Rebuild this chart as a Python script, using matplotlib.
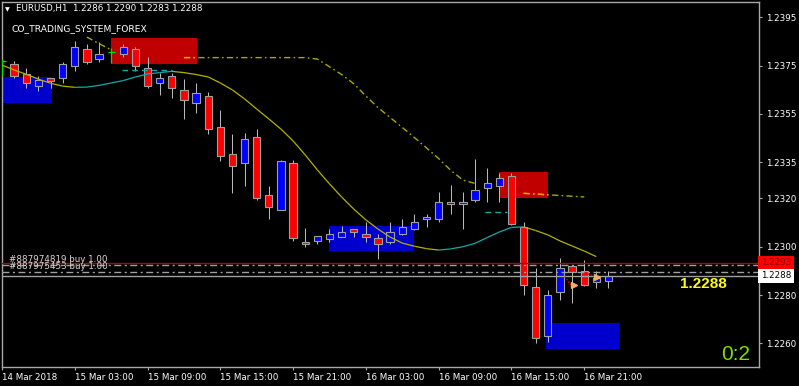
import matplotlib
matplotlib.use("Agg")
import matplotlib.pyplot as plt
from matplotlib.patches import Rectangle
import numpy as np

# ---------------- data ----------------
title_text = "EURUSD,H1  1.2286 1.2290 1.2283 1.2288"
indicator_name = "CO_TRADING_SYSTEM_FOREX"

# hourly bars, 14 Mar 2018 21:00 .. 16 Mar 2018 23:00
opens = [1.23769, 1.23757, 1.23715, 1.23667, 1.23697, 1.23697, 1.23748, 1.23817, 1.23777, 1.23808,
         1.23798, 1.23817, 1.23739, 1.23677, 1.23707, 1.23649, 1.23596, 1.23624, 1.23497, 1.23384,
         1.23345, 1.23456, 1.23214, 1.23152, 1.23345, 1.23021, 1.23024, 1.23032, 1.23041, 1.23073,
         1.23053, 1.23035, 1.23021, 1.23051, 1.23072, 1.23115, 1.23113, 1.23176, 1.23176, 1.23193,
         1.23244, 1.23253, 1.23294, 1.23083, 1.22832, 1.22630, 1.22811, 1.22920, 1.22901, 1.22853,
         1.22860]
highs = [1.23779, 1.23769, 1.23739, 1.23707, 1.23699, 1.23766, 1.23852, 1.23838, 1.23849, 1.23823,
         1.23838, 1.23828, 1.23787, 1.23718, 1.23718, 1.23693, 1.23679, 1.23642, 1.23566, 1.23465,
         1.23470, 1.23486, 1.23251, 1.23359, 1.23359, 1.23076, 1.23044, 1.23073, 1.23086, 1.23075,
         1.23104, 1.23051, 1.23104, 1.23115, 1.23135, 1.23135, 1.23225, 1.23256, 1.23226, 1.23365,
         1.23325, 1.23304, 1.23306, 1.23104, 1.22913, 1.22821, 1.22954, 1.22922, 1.22945, 1.22901,
         1.22900]
lows = [1.23708, 1.23697, 1.23656, 1.23646, 1.23656, 1.23677, 1.23728, 1.23755, 1.23766, 1.23761,
        1.23787, 1.23728, 1.23656, 1.23628, 1.23615, 1.23528, 1.23555, 1.23465, 1.23355, 1.23224,
        1.23251, 1.23193, 1.23113, 1.23150, 1.23025, 1.23000, 1.23010, 1.23018, 1.23039, 1.23041,
        1.23021, 1.22949, 1.23010, 1.23048, 1.23069, 1.23083, 1.23101, 1.23134, 1.23073, 1.23184,
        1.23184, 1.23184, 1.23090, 1.22800, 1.22600, 1.22607, 1.22779, 1.22768, 1.22839, 1.22830,
        1.22830]
closes = [1.23769, 1.23708, 1.23677, 1.23690, 1.23688, 1.23757, 1.23828, 1.23766, 1.23798, 1.23808,
          1.23828, 1.23748, 1.23667, 1.23697, 1.23656, 1.23608, 1.23638, 1.23486, 1.23376, 1.23335,
          1.23446, 1.23203, 1.23166, 1.23355, 1.23035, 1.23013, 1.23043, 1.23053, 1.23062, 1.23061,
          1.23041, 1.23010, 1.23062, 1.23083, 1.23104, 1.23124, 1.23184, 1.23184, 1.23184, 1.23235,
          1.23265, 1.23283, 1.23094, 1.22841, 1.22621, 1.22800, 1.22911, 1.22894, 1.22841, 1.22872,
          1.22880]

# moving average (bars 0..49)
ma_values = [1.23752, 1.23732, 1.23714, 1.23694, 1.23677, 1.23665, 1.23660, 1.23661, 1.23668, 1.23678,
             1.23688, 1.23703, 1.23715, 1.23721, 1.23726, 1.23721, 1.23713, 1.23703, 1.23678, 1.23649,
             1.23612, 1.23570, 1.23529, 1.23487, 1.23438, 1.23380, 1.23318, 1.23260, 1.23206, 1.23156,
             1.23111, 1.23073, 1.23040, 1.23015, 1.23002, 1.22992, 1.22986, 1.22991, 1.23000, 1.23014,
             1.23038, 1.23061, 1.23080, 1.23082, 1.23067, 1.23049, 1.23024, 1.23003, 1.22982, 1.22959]

# dash-dot trailing line (None = not drawn)
trail_values = [None, None, None, None, None, None, None, 1.23868, 1.23841, 1.23815,
                None, None, None, None, None, 1.23783, 1.23783, 1.23783, 1.23783, 1.23783,
                1.23783, 1.23783, 1.23783, 1.23783, 1.23783, 1.23783, 1.23777, 1.23745, 1.23713, 1.23675,
                1.23624, 1.23576, 1.23535, 1.23494, 1.23452, 1.23409, 1.23365, 1.23316, 1.23276, 1.23262,
                None, None, None, 1.23221, 1.23218, 1.23215, 1.23212, 1.23209, 1.23206]

# zones (bar start, bar end, low, high, kind)
zone_start = [-1, 9, 27, 41, 44.85]
zone_end = [4.1, 16.1, 34.0, 45.0, 50.95]
zone_low = [1.23596, 1.23757, 1.22982, 1.23203, 1.22576]
zone_high = [1.23704, 1.23863, 1.23086, 1.23308, 1.22685]
zone_kind = ["buy", "sell", "buy", "sell", "buy"]

# short cyan dashed levels
cyan_start = [9.9, 39.8]
cyan_end = [14.0, 41.6]
cyan_level = [1.23730, 1.23144]

ask_price = 1.22934
bid_price = 1.2288
order_prices = [1.22923, 1.22894]
order_labels = ["#887974819 buy 1.00", "#887975453 buy 1.00"]

trade_bars = [47.15, 49.05]
trade_prices = [1.22841, 1.22875]
link_x = [[46.4, 47.0], [48.3, 48.9]]
link_y = [[1.22876, 1.22835], [1.22888, 1.22876]]

tick_bars = [0, 6, 12, 18, 24, 30, 36, 42, 48]
tick_labels = ["14 Mar 2018", "15 Mar 03:00", "15 Mar 09:00", "15 Mar 15:00", "15 Mar 21:00",
               "16 Mar 03:00", "16 Mar 09:00", "16 Mar 15:00", "16 Mar 21:00"]
price_ticks = [1.2395, 1.2375, 1.2355, 1.2335, 1.2320, 1.2300, 1.2280, 1.2260]

big_price_text = "1.2288"
score_text = "0:2"

# ---------------- drawing ----------------
W, H = 799, 386
fig = plt.figure(figsize=(W / 100, H / 100), dpi=100, facecolor="black")
ax = fig.add_axes([1.5 / W, 19 / H, 757.5 / W, 365 / H])
ax.set_facecolor("black")
ax.set_xlim(-0.04, 62.41)
ax.set_ylim(1.225019, 1.240133)

FS = 6.3
frame_col = "#A8A8A8"

# zones
zone_patches = []
for s, e, lo, hi, k in zip(zone_start, zone_end, zone_low, zone_high, zone_kind):
    col = "#0000CD" if k == "buy" else "#C00000"
    r = Rectangle((s, lo), e - s, hi - lo, facecolor=col, edgecolor="none", zorder=1)
    ax.add_patch(r)
    zone_patches.append((r, k))

# candles
o = np.array(opens); h = np.array(highs); l = np.array(lows); c = np.array(closes)
x = np.arange(len(o))
bull = c > o
bear = c < o
doji = c == o
bw = 0.6
ax.vlines(x[~doji], l[~doji], h[~doji], color="#B8B8B8", lw=0.75, zorder=3)
ax.bar(x[bull], (c - o)[bull], bottom=o[bull], width=bw, color="#0000FF",
       edgecolor="#A0A0A0", linewidth=0.8, zorder=4)
ax.bar(x[bear], (o - c)[bear], bottom=c[bear], width=bw, color="#FF0000",
       edgecolor="#A0A0A0", linewidth=0.8, zorder=4)
ax.vlines(x[doji], l[doji], h[doji], color="#00E000", lw=0.9, zorder=4)
ax.hlines(o[doji], x[doji] - bw / 2, x[doji] + bw / 2, color="#00E000", lw=0.9, zorder=4)

# moving average, coloured by direction
ma = np.array(ma_values)
for i in range(len(ma) - 1):
    col = "#B4B000" if ma[i + 1] < ma[i] else "#12AAAA"
    ax.plot([i, i + 1], [ma[i], ma[i + 1]], color=col, lw=0.9, zorder=5,
            solid_capstyle="butt")

# trailing dash-dot line
tv = np.array([np.nan if v is None else v for v in trail_values], dtype=float)
tx = np.arange(len(tv))
dd = (0, (4.5, 2.3, 1.2, 2.3))
ax.plot(tx, tv, color="#A8A800", lw=1.0, linestyle=dd, zorder=5)
for r, k in zone_patches:
    if k == "sell":
        ln, = ax.plot(tx, tv, color="#FF9A00", lw=1.0, linestyle=dd, zorder=6)
        ln.set_clip_path(r)

# cyan short levels
for s, e, lv in zip(cyan_start, cyan_end, cyan_level):
    ax.plot([s, e], [lv, lv], color="#12AAAA", lw=1.0, linestyle=(0, (4, 3)), zorder=5)

# horizontal lines
ax.axhline(ask_price, color="#B00000", lw=1.0, zorder=6)
for p in order_prices:
    ax.axhline(p, color="#A0A0A0", lw=1.0, linestyle=(0, (5, 2.5, 1.5, 2.5)), zorder=6)
ax.axhline(bid_price, color="#A0A0A0", lw=1.0, zorder=6)

# order labels
for p, lab, dy in zip(order_prices, order_labels, [0.8, 1.3]):
    ax.annotate(lab, (0.55, p), xytext=(0, dy), textcoords="offset points",
                color="#D8D8D8", fontsize=FS, va="bottom", ha="left",
                zorder=7, family="DejaVu Sans")

# trade marks
for xs, ys in zip(link_x, link_y):
    ax.plot(xs, ys, color="#E00000", lw=1.0, linestyle=(0, (1, 1.2)), zorder=7)
ax.plot(trade_bars, trade_prices, linestyle="none", marker=">", markersize=4,
        color="#F0B060", zorder=8)

# axes styling
for sp in ax.spines.values():
    sp.set_color(frame_col)
    sp.set_linewidth(1.0)
ax.yaxis.tick_right()
ax.set_yticks(price_ticks)
ax.set_yticklabels([f"{p:.4f}" for p in price_ticks])
ax.set_xticks(tick_bars)
ax.set_xticklabels(tick_labels)
for t in ax.get_xticklabels():
    t.set_horizontalalignment("left")
ax.tick_params(axis="y", colors=frame_col, labelcolor="white", labelsize=FS,
               length=2.5, width=0.8, pad=2.3)
ax.tick_params(axis="x", colors=frame_col, labelcolor="white", labelsize=FS,
               length=2.5, width=0.8, pad=1.5)

# price boxes on the axis
ax.text(1.0025, ask_price, f"{ask_price:.4f}", transform=ax.get_yaxis_transform(),
        color="#8A0000", fontsize=FS, va="center", ha="left", clip_on=False, zorder=9,
        bbox=dict(boxstyle="square,pad=0.3", facecolor="#FF0000", edgecolor="none"))
ax.text(1.0025, bid_price, f"{bid_price:.4f}", transform=ax.get_yaxis_transform(),
        color="black", fontsize=FS, va="center", ha="left", clip_on=False, zorder=9,
        bbox=dict(boxstyle="square,pad=0.3", facecolor="white", edgecolor="none"))

# header texts
fig.text(4.5 / W, 1 - 9.5 / H, "\u25BC", color="white", fontsize=4.5, va="center", ha="left")
fig.text(16 / W, 1 - 9 / H, title_text, color="white", fontsize=FS, va="center", ha="left")
fig.text(12 / W, 1 - 28.5 / H, indicator_name, color="white", fontsize=FS + 0.3,
         va="center", ha="left")

# big texts
fig.text(703 / W, 1 - 284 / H, big_price_text, color="#FFFF00", fontsize=11,
         fontweight="bold", family="Liberation Sans", va="center", ha="center")
fig.text(736 / W, 1 - 354 / H, score_text, color="#7CE000", fontsize=15,
         family="Liberation Sans", va="center", ha="center")

fig.savefig("out.png", dpi=100, facecolor="black")
